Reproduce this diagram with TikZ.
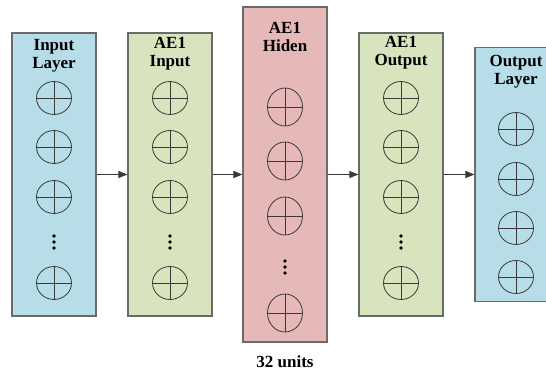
\documentclass[tikz,border=0pt]{standalone}
\usepackage{fontspec}
\setmainfont{Liberation Serif}
\usepackage{xcolor}
\usetikzlibrary{positioning,calc,shapes.geometric,arrows.meta}

\definecolor{layerblue}{HTML}{B7DDE8}
\definecolor{aegreen}{HTML}{D7E4BD}
\definecolor{hidpink}{HTML}{E6B9B8}
\definecolor{edgegray}{HTML}{6A6A6A}
\definecolor{inkgray}{HTML}{3A3A3A}

\tikzset{
  layer/.style={draw=edgegray, line width=1.1pt, minimum width=84pt, inner sep=0pt},
  unit/.style={ellipse, draw=inkgray, line width=0.8pt, minimum width=35pt, minimum height=33pt, inner sep=0pt},
  title/.style={font=\bfseries\fontsize{17}{18}\selectfont, align=center, inner sep=0pt},
  link/.style={-{Triangle[length=9pt,width=7pt]}, draw=inkgray, line width=1pt},
}

% cross inside a unit
\newcommand{\crossunit}[1]{\draw[inkgray, line width=0.8pt] (#1.north) -- (#1.south) (#1.west) -- (#1.east);}
% vertical dots
\newcommand{\vdotsat}[2]{\foreach \d in {-6,0,6} \fill[black] (#1,#2+\d) circle (1.8pt);}

\begin{document}
\begin{tikzpicture}[x=1pt,y=-1pt]
    \useasboundingbox (0,0) rectangle (546,374);
    \clip (0,0) rectangle (546,374);

    % layers
    \node[layer, fill=layerblue, minimum height=283pt] (inlayer) at (54,174.5) {};
    \node[layer, fill=aegreen, minimum height=283pt] (aein) at (170,174.5) {};
    \node[layer, fill=hidpink, minimum height=335pt] (aehid) at (285,174.5) {};
    \node[layer, fill=aegreen, minimum height=283pt] (aeout) at (401,174.5) {};
    \node[layer, fill=layerblue, minimum height=254pt] (outlayer) at (517,174.5) {};

    % titles
    \node[title] (tin) at (54,56) {Input\\Layer};
    \node[title] (taein) at (170,54) {AE1\\Input};
    \node[title] (taehid) at (285,37) {AE1\\Hiden};
    \node[title] (taeout) at (401,53) {AE1\\Output};
    \node[title] (tout) at (516,72) {Output\\Layer};

    % units
    \foreach \n/\x in {a/54,b/170,d/401} {
        \foreach \i/\y in {1/98,2/147,3/197,4/283} {
            \node[unit] (\n\i) at (\x,\y) {};
            \crossunit{\n\i}
        }
        \vdotsat{\x}{242}
    }
    \foreach \i/\y in {1/107,2/161,3/216,4/313} {
        \node[unit, minimum height=38pt] (c\i) at (285,\y) {};
        \crossunit{c\i}
    }
    \vdotsat{285}{267}
    \foreach \i/\y in {1/129,2/179,3/228,4/277} {
        \node[unit] (e\i) at (516,\y) {};
        \crossunit{e\i}
    }

    % links
    \draw[link] (inlayer) -- (aein);
    \draw[link] (aein) -- (aehid);
    \draw[link] (aehid) -- (aeout);
    \draw[link] (aeout) -- (outlayer);

    \node[title] (units) at (285,362) {32 units};
\end{tikzpicture}
\end{document}
